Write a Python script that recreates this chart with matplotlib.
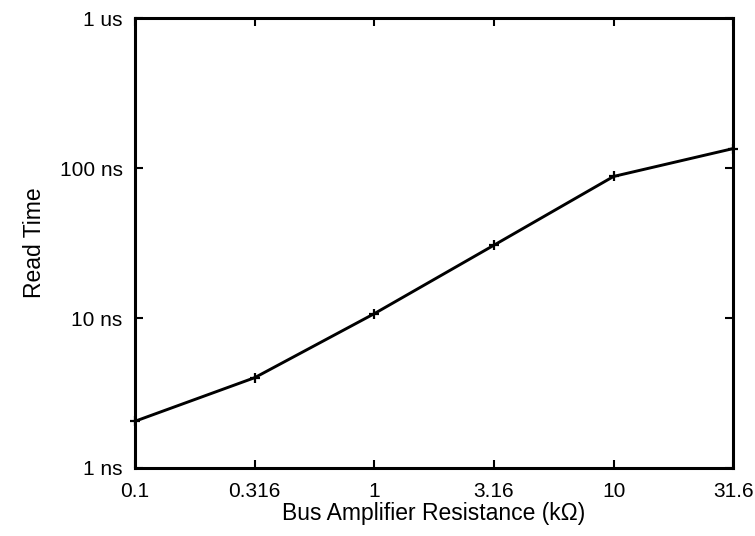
import matplotlib
matplotlib.use('Agg')
import matplotlib.pyplot as plt
from matplotlib.ticker import FixedLocator, FixedFormatter, NullLocator

plt.rcParams['font.family'] = ['Liberation Sans', 'DejaVu Sans']

# Данные
resistance = [0.1, 0.316, 1, 3.16, 10, 31.6]
read_time = [2.05e-9, 4.0e-9, 10.7e-9, 30.6e-9, 88e-9, 135e-9]

x_ticks = [0.1, 0.316, 1, 3.16, 10, 31.6]
x_labels = ['0.1', '0.316', '1', '3.16', '10', '31.6']
y_ticks = [1e-9, 1e-8, 1e-7, 1e-6]
y_labels = ['1 ns', '10 ns', '100 ns', '1 us']

fig = plt.figure(figsize=(7.55, 5.36), dpi=100)
ax = fig.add_axes([0.179, 0.127, 0.792, 0.839])

ax.plot(resistance, read_time, color='black', lw=2.1, marker='+', ms=7, mew=1.6, clip_on=False)

ax.set_xscale('log')
ax.set_yscale('log')
ax.set_xlim(0.1, 31.6)
ax.set_ylim(1e-9, 1e-6)

ax.xaxis.set_major_locator(FixedLocator(x_ticks))
ax.xaxis.set_major_formatter(FixedFormatter(x_labels))
ax.xaxis.set_minor_locator(NullLocator())
ax.yaxis.set_major_locator(FixedLocator(y_ticks))
ax.yaxis.set_major_formatter(FixedFormatter(y_labels))
ax.yaxis.set_minor_locator(NullLocator())

ax.tick_params(direction='in', length=6, width=1.5, labelsize=15, top=True, right=True)
ax.tick_params(axis='x', pad=10)
ax.tick_params(axis='y', pad=9)
for s in ax.spines.values():
    s.set_linewidth(2.2)

ax.set_xlabel('Bus Amplifier Resistance (k\u03a9)', fontsize=16.5, labelpad=1)
ax.set_ylabel('Read Time', fontsize=16.5, labelpad=10)

plt.savefig('out.png')
